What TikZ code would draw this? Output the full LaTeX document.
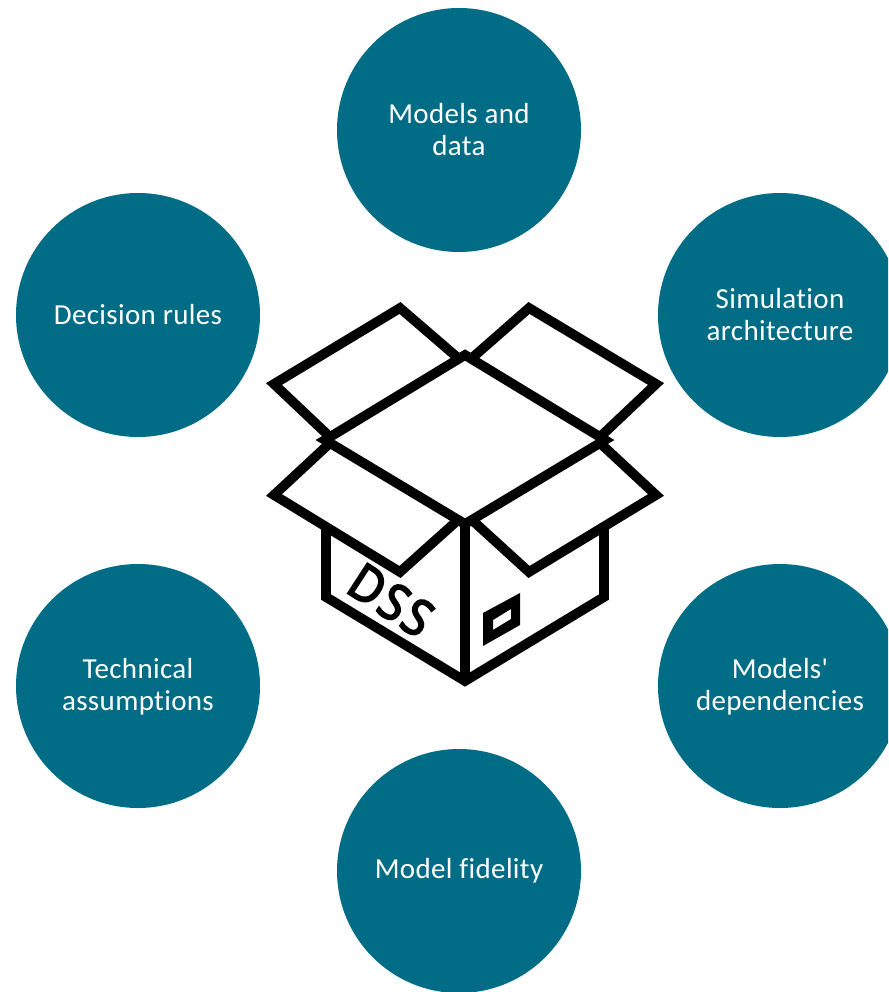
\documentclass[tikz,border=0pt]{standalone}
\usepackage{fontspec}
\setmainfont[Ligatures={CommonOff,TeXOff},LetterSpace=1.2]{Carlito}
\newfontfamily\dssfont[FakeBold=4,FakeStretch=0.9,LetterSpace=6]{Open Sans}
\definecolor{teal}{HTML}{006C85}
\tikzset{
  topic/.style={circle,fill=teal,draw=none,minimum size=244pt,inner sep=0pt,text=white,align=center,font=\fontsize{29}{32}\selectfont},
  boxline/.style={draw=black,line width=9.7pt,line join=miter,miter limit=10}
}
\begin{document}
\begin{tikzpicture}[x=1pt,y=-1pt]
\useasboundingbox (0,0) rectangle (888,992);
\clip (0,0) rectangle (888,992);
\node[topic] (data) at (459,130) {Models and\\data};
\node[topic] (rules) at (138,315) {Decision rules};
\node[topic] (arch) at (780,315) {Simulation\\architecture};
\node[topic] (assump) at (138,686) {\rule{0pt}{22pt}Technical\\assumptions};
\node[topic] (deps) at (780,686) {\rule{0pt}{22pt}Models'\\dependencies};
\node[topic] (fidelity) at (459,871) {Model fidelity};
% box
\path[boxline] (326,525) -- (326,597) -- (465,681) -- (604,597) -- (604,525);
\path[boxline] (465,524) -- (465,681);
\path[boxline] (458,358) -- (400,308) -- (274,384) -- (330,437);
\path[boxline] (472,358) -- (529,308) -- (656,384) -- (600,437);
\path[boxline] (330,443) -- (274,495) -- (400,572) -- (458,520);
\path[boxline] (600,443) -- (656,495) -- (529,572) -- (472,520);
\path[boxline] (465,355) -- (605,440) -- (465,524) -- (325,440) -- cycle;
\fill[black,even odd rule] (483,613) -- (520,593) -- (520,625) -- (483,646) -- cycle
  (493,620) -- (511,609) -- (511,619) -- (493,630) -- cycle;
\node[rotate=-33,inner sep=0pt,font=\dssfont\fontsize{50}{50}\selectfont] (dss) at (391,600) {DSS};
\end{tikzpicture}
\end{document}
